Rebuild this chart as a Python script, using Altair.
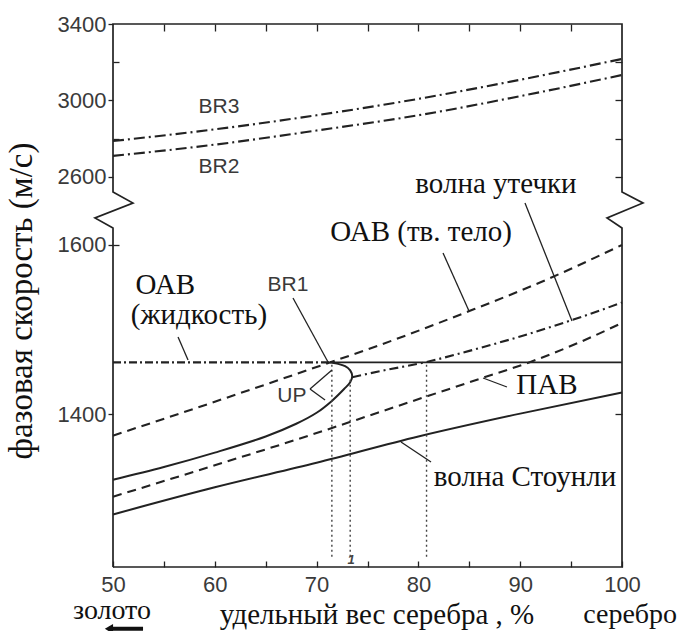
import altair as alt
import pandas as pd

# ---------------- data (x: silver weight %, v: phase velocity m/s) ----------------
br3_x = [50, 60, 70, 80, 90, 100]
br3_v = [2787, 2848, 2922, 3008, 3108, 3217]
br2_x = [50, 60, 70, 80, 90, 100]
br2_v = [2709, 2768, 2842, 2922, 3022, 3133]

oab_solid_x = [50, 60, 70, 76, 85, 92, 100]
oab_solid_v = [1375, 1415, 1456, 1481, 1522, 1556, 1600]

leaky_x = [73.5, 76.2, 81, 85, 90, 95, 100]
leaky_v = [1444, 1451, 1462.5, 1475, 1492, 1511, 1532]

saw_x = [50, 60, 70, 76, 81, 86, 91, 96, 100]
saw_v = [1303, 1340, 1378, 1402, 1422, 1442, 1462, 1486, 1508]

stoneley_x = [50, 60, 70, 80, 90, 100]
stoneley_v = [1282, 1314, 1343, 1374, 1401, 1426]

br1_x = [50, 55, 60, 65, 68, 70, 71.5, 72.7, 73.3, 73.5, 73.3, 72.8, 72.0, 71.3]
br1_v = [1323, 1338, 1355, 1374, 1389, 1402, 1416, 1430, 1438, 1445, 1452, 1457, 1460, 1461.5]

liquid_v = 1461.5
liquid_dashdot_x = [50, 71.3]
liquid_solid_x = [71.3, 100]

dotted_x = [71.5, 73.3, 80.8]
dotted_top = [1461.5, 1441, 1461.5]
dotted_bottom = 1232

# frame with axis breaks (zigzags)
frame_x = [50, 100, 100, 98.53, 102.06, 100, 100, 50, 50, 51.96, 48.23, 50, 50]
frame_v = [1220, 1220, 1620, 1870, 2245, 2520, 3400, 3400, 2520, 2245, 1870, 1620, 1220]

# label pointer segments
ptr_x1 = [67.68, 56.39, 69.35, 69.35, 82.42, 90.47, 86.35, 78.29]
ptr_v1 = [1537.4, 1491.4, 1430.0, 1430.0, 1590.5, 2245, 1443.0, 1367.5]
ptr_x2 = [71.12, 57.37, 71.51, 70.83, 84.97, 95.09, 88.70, 81.24]
ptr_v2 = [1461.9, 1464.2, 1452.4, 1417.0, 1522.1, 1510.3, 1432.4, 1343.9]

# texts
serif_text = ["ОАВ (тв. тело)", "волна утечки", "ПАВ", "волна Стоунли",
              "удельный вес серебра , %"]
serif_x = [80.26, 87.62, 92.63, 90.47, 75.93]
serif_v = [1615, 2562, 1434.7, 1326.2, 1163.3]

side_text = ["золото", "серебро"]
side_x = [49.9, 100.8]
side_v = [1167.5, 1163.3]

serif_left_text = ["ОАВ", "(жидкость)"]
serif_left_x = [52.2, 51.75]
serif_left_v = [1552.7, 1517.3]

sans_text = ["BR3", "BR2", "BR1", "UP"]
sans_x = [60.41, 60.41, 67.19, 67.58]
sans_v = [2965, 2651, 1552.7, 1421.8]

mark1_text = ["1"]
mark1_x = [73.4]
mark1_v = [1228]

ytitle_text = ["фазовая скорость (м/с)"]
ytitle_x = [41.1]
ytitle_v = [1533.9]

arrow_x = [52.95, 49.6]
arrow_v = [1147, 1147]

x_ticks = list(range(50, 101, 5))
x_top_ticks = list(range(55, 100, 5))
y_labels = [1400, 1600, 2600, 3000, 3400]
y_minor_left = [1600, 2800, 3200]
y_right_ticks = [1400, 2600, 2800, 3000, 3200]

SANS = "Liberation Sans"
SERIF = "Liberation Serif"
INK = "#222222"

xs = alt.Scale(domain=[50, 100], nice=False, zero=False)
ys = alt.Scale(domain=[1220, 1620, 2520, 3400], range=[543, 204, 168, 0], nice=False, zero=False)


def X(field="x", axis=None):
    return alt.X(f"{field}:Q", scale=xs, axis=axis)


def Y(field="v", axis=None):
    return alt.Y(f"{field}:Q", scale=ys, axis=axis)


ax_bottom = alt.Axis(orient="bottom", values=x_ticks,
                     labelExpr="datum.value % 10 == 0 ? datum.label : ''",
                     tickSize=6, offset=-6, domain=False, grid=False, title=None,
                     labelPadding=7, labelFont=SANS, labelFontSize=22, labelColor="#3a3a3a",
                     tickColor=INK, tickWidth=1.3, labelFlush=False, labelOverlap=False,
                     labelBound=False, format="d")
ax_top = alt.Axis(orient="top", values=x_top_ticks, labels=False, tickSize=7, offset=-7,
                  domain=False, grid=False, title=None, tickColor=INK, tickWidth=1.3)
ax_left = alt.Axis(orient="left", values=y_labels, tickSize=5, labelPadding=2, domain=False,
                   grid=False, title=None, labelFont=SANS, labelFontSize=22,
                   labelColor="#3a3a3a", tickColor=INK, tickWidth=1.3, format="d",
                   labelOverlap=False, labelBound=False, labelFlush=False)
ax_left_minor = alt.Axis(orient="left", values=y_minor_left, labels=False, tickSize=6,
                         offset=-6, domain=False, grid=False, title=None, tickColor=INK,
                         tickWidth=1.3)
ax_right = alt.Axis(orient="right", values=y_right_ticks, labels=False, tickSize=7,
                    offset=-7, domain=False, grid=False, title=None, tickColor=INK,
                    tickWidth=1.3)

# frame
frame_df = pd.DataFrame({"x": frame_x, "v": frame_v, "o": list(range(len(frame_x)))})
frame = alt.Chart(frame_df).mark_line(color=INK, strokeWidth=1.7, strokeJoin="miter").encode(
    x=X(axis=ax_bottom), y=Y(axis=ax_left), order="o:Q")

br3 = alt.Chart(pd.DataFrame({"x": br3_x, "v": br3_v})).mark_line(
    color=INK, strokeWidth=2.1, strokeDash=[11, 4, 2, 4], interpolate="monotone").encode(
    x=X(axis=ax_top), y=Y(axis=ax_left_minor))
br2 = alt.Chart(pd.DataFrame({"x": br2_x, "v": br2_v})).mark_line(
    color=INK, strokeWidth=2.1, strokeDash=[11, 4, 2, 4], interpolate="monotone").encode(
    x=X(), y=Y(axis=ax_right))

oab_solid = alt.Chart(pd.DataFrame({"x": oab_solid_x, "v": oab_solid_v})).mark_line(
    color=INK, strokeWidth=2.1, strokeDash=[9, 6], interpolate="monotone").encode(x=X(), y=Y())
leaky = alt.Chart(pd.DataFrame({"x": leaky_x, "v": leaky_v})).mark_line(
    color=INK, strokeWidth=2.1, strokeDash=[9, 4, 2, 4], interpolate="monotone").encode(x=X(), y=Y())
saw = alt.Chart(pd.DataFrame({"x": saw_x, "v": saw_v})).mark_line(
    color=INK, strokeWidth=2.1, strokeDash=[9, 6], interpolate="monotone").encode(x=X(), y=Y())
stoneley = alt.Chart(pd.DataFrame({"x": stoneley_x, "v": stoneley_v})).mark_line(
    color=INK, strokeWidth=2, interpolate="monotone").encode(x=X(), y=Y())
br1 = alt.Chart(pd.DataFrame({"x": br1_x, "v": br1_v, "o": list(range(len(br1_x)))})).mark_line(
    color=INK, strokeWidth=2, interpolate="catmull-rom").encode(x=X(), y=Y(), order="o:Q")

liq_dd = alt.Chart(pd.DataFrame({"x": liquid_dashdot_x, "v": [liquid_v] * 2})).mark_line(
    color=INK, strokeWidth=2.1, strokeDash=[8, 3, 2, 3]).encode(x=X(), y=Y())
liq_solid = alt.Chart(pd.DataFrame({"x": liquid_solid_x, "v": [liquid_v] * 2})).mark_line(
    color=INK, strokeWidth=1.9).encode(x=X(), y=Y())

dotted = alt.Chart(pd.DataFrame({"x": dotted_x, "v": [dotted_bottom] * 3, "v2": dotted_top})).mark_rule(
    color="#444", strokeWidth=1.4, strokeDash=[2, 3]).encode(
    x=X(), y=Y(), y2="v2:Q")

pointers = alt.Chart(pd.DataFrame({"x": ptr_x1, "v": ptr_v1, "x2": ptr_x2, "v2": ptr_v2})).mark_rule(
    color=INK, strokeWidth=1.3).encode(x=X(), y=Y(), x2="x2:Q", y2="v2:Q")

serif_df = pd.DataFrame({"t": serif_text, "x": serif_x, "v": serif_v})
serif_lbl = alt.Chart(serif_df).mark_text(
    font=SERIF, fontSize=29, color="#111", align="center", baseline="middle").encode(
    x=X(), y=Y(), text="t:N")
side_df = pd.DataFrame({"t": side_text, "x": side_x, "v": side_v})
side_lbl = alt.Chart(side_df).mark_text(
    font=SERIF, fontSize=28, color="#111", align="center", baseline="middle").encode(
    x=X(), y=Y(), text="t:N")
serif_left_df = pd.DataFrame({"t": serif_left_text, "x": serif_left_x, "v": serif_left_v})
serif_left_lbl = alt.Chart(serif_left_df).mark_text(
    font=SERIF, fontSize=29, color="#111", align="left", baseline="middle").encode(
    x=X(), y=Y(), text="t:N")
sans_df = pd.DataFrame({"t": sans_text, "x": sans_x, "v": sans_v})
sans_lbl = alt.Chart(sans_df).mark_text(
    font=SANS, fontSize=21, color="#3a3a3a", align="center", baseline="middle").encode(
    x=X(), y=Y(), text="t:N")
mark1 = alt.Chart(pd.DataFrame({"t": mark1_text, "x": mark1_x, "v": mark1_v})).mark_text(
    font=SANS, fontSize=13, fontStyle="italic", fontWeight="bold", color="#444",
    align="center", baseline="middle").encode(x=X(), y=Y(), text="t:N")
ytitle = alt.Chart(pd.DataFrame({"t": ytitle_text, "x": ytitle_x, "v": ytitle_v})).mark_text(
    font=SERIF, fontSize=33, color="#111", align="center", baseline="middle", angle=270).encode(
    x=X(), y=Y(), text="t:N")

arrow_line = alt.Chart(pd.DataFrame({"x": arrow_x, "v": arrow_v})).mark_line(
    color="#111", strokeWidth=4).encode(x=X(), y=Y())
arrow_head = alt.Chart(pd.DataFrame({"x": [arrow_x[1]], "v": [arrow_v[1]]})).mark_point(
    shape="triangle-left", filled=True, size=90, color="#111", opacity=1).encode(x=X(), y=Y())

chart = alt.layer(
    frame, br3, br2, oab_solid, leaky, saw, stoneley, br1, liq_dd, liq_solid,
    dotted, pointers, serif_lbl, side_lbl, serif_left_lbl, sans_lbl, mark1, ytitle,
    arrow_line, arrow_head
).resolve_axis(x="independent", y="independent").properties(
    width=509, height=543,
    autosize=alt.AutoSizeParams(type="none"),
    padding={"left": 113, "top": 24, "right": 64, "bottom": 64},
    background="white",
).configure_view(stroke=None)

chart.save("out.html", embed_options={"renderer": "svg", "actions": False})
